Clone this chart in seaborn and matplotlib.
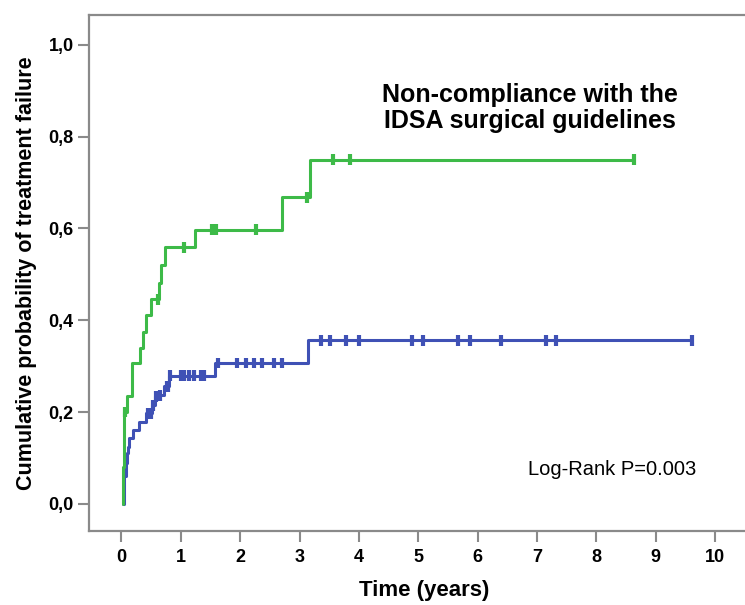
import matplotlib
matplotlib.use('Agg')

import numpy as np
import pandas as pd
from matplotlib import pyplot as plt
import seaborn as sns


# Kaplan-Meier style cumulative failure
GREEN_TIMES = [0.02, 0.025, 0.03, 0.035, 0.04, 0.05, 0.10, 0.17, 0.31, 0.36,
               0.41, 0.50, 0.64, 0.67, 0.74, 1.24, 2.70, 3.17, 8.64]
GREEN_PROBS = [0.0, 0.04, 0.08, 0.12, 0.16, 0.20, 0.234, 0.306, 0.339, 0.375,
               0.412, 0.446, 0.482, 0.521, 0.559, 0.597, 0.668, 0.750, 0.750]
GREEN_CENSORED = [0.06, 0.61, 1.06, 1.53, 1.60, 2.27, 3.12, 3.56, 3.85, 8.64]

BLUE_TIMES = [0.03, 0.04, 0.05, 0.07, 0.09, 0.11, 0.13, 0.20, 0.29, 0.42,
              0.51, 0.56, 0.60, 0.72, 0.80, 1.57, 3.14, 9.62]
BLUE_PROBS = [0.0, 0.03, 0.06, 0.09, 0.11, 0.125, 0.143, 0.161, 0.179, 0.197,
              0.215, 0.234, 0.237, 0.256, 0.279, 0.307, 0.356, 0.356]
BLUE_CENSORED = [0.45, 0.50, 0.53, 0.58, 0.65, 0.76, 0.78, 0.82, 1.00, 1.06,
                 1.13, 1.22, 1.34, 1.39, 1.62, 1.95, 2.09, 2.23, 2.37, 2.57,
                 2.70, 3.36, 3.51, 3.79, 4.00, 4.89, 5.08, 5.67, 5.87, 6.39,
                 7.16, 7.32, 9.62]

X_TICKS = list(range(0, 11))
Y_TICKS = [0.0, 0.2, 0.4, 0.6, 0.8, 1.0]
Y_TICK_LABELS = ['0,0', '0,2', '0,4', '0,6', '0,8', '1,0']

COLORS = {'blue': '#3f51b5', 'green': '#3dba48'}
GREY = '#8a8a8a'


def _step_value(times, probs, t):
    idx = np.searchsorted(times, t, side='right') - 1
    return probs[max(idx, 0)]


def build_frames():
    curves = pd.concat([
        pd.DataFrame({'time': BLUE_TIMES, 'prob': BLUE_PROBS, 'group': 'blue'}),
        pd.DataFrame({'time': GREEN_TIMES, 'prob': GREEN_PROBS, 'group': 'green'}),
    ], ignore_index=True)

    censors = pd.concat([
        pd.DataFrame({'time': BLUE_CENSORED,
                      'prob': [_step_value(BLUE_TIMES, BLUE_PROBS, t) for t in BLUE_CENSORED],
                      'group': 'blue'}),
        pd.DataFrame({'time': GREEN_CENSORED,
                      'prob': [_step_value(GREEN_TIMES, GREEN_PROBS, t) for t in GREEN_CENSORED],
                      'group': 'green'}),
    ], ignore_index=True)
    return curves, censors


def create_figure(curves, censors):
    fig = plt.figure(figsize=(7.45, 6.05), dpi=100)
    ax = fig.add_axes([0.1195, 0.1223, 0.90, 0.8529])

    sns.lineplot(data=curves, x='time', y='prob', hue='group', palette=COLORS,
                 drawstyle='steps-post', estimator=None, sort=False,
                 linewidth=2.2, legend=False, ax=ax)
    sns.scatterplot(data=censors, x='time', y='prob', hue='group', palette=COLORS,
                    marker='|', s=60, linewidth=3, legend=False, ax=ax, zorder=3)

    ax.set_xlim(-0.547, 10.75)
    ax.set_ylim(-0.059, 1.065)
    ax.set_xticks(X_TICKS)
    ax.set_xticklabels([str(x) for x in X_TICKS])
    ax.set_yticks(Y_TICKS)
    ax.set_yticklabels(Y_TICK_LABELS)

    for side in ['left', 'bottom', 'top']:
        ax.spines[side].set_color(GREY)
        ax.spines[side].set_linewidth(1.6)
    ax.spines['right'].set_visible(False)

    ax.tick_params(axis='both', direction='out', length=8, width=1.5,
                   color=GREY, labelsize=13, labelcolor='black',
                   bottom=True, left=True, top=False, right=False)
    ax.tick_params(axis='y', pad=3)
    ax.tick_params(axis='x', pad=5)
    for label in ax.get_xticklabels() + ax.get_yticklabels():
        label.set_fontweight('bold')

    ax.set_xlabel('Time (years)', fontsize=16, fontweight='bold',
                  labelpad=10, color='black')
    ax.set_ylabel('Cumulative probability of treatment failure',
                  fontsize=15.5, fontweight='bold', labelpad=8, color='black')

    ax.text(6.88, 0.862, 'Non-compliance with the\nIDSA surgical guidelines',
            fontsize=18, fontweight='bold', ha='center', va='center',
            linespacing=1.1, color='black')
    ax.text(8.26, 0.074, 'Log-Rank P=0.003', fontsize=14.5,
            ha='center', va='center', color='black')
    return fig


def run():
    sns.set_theme(style='white')
    plt.rcParams['font.family'] = ['Liberation Sans', 'DejaVu Sans']
    curves, censors = build_frames()
    fig = create_figure(curves, censors)
    fig.savefig('out.png', dpi=100)


if __name__ == '__main__':
    run()
